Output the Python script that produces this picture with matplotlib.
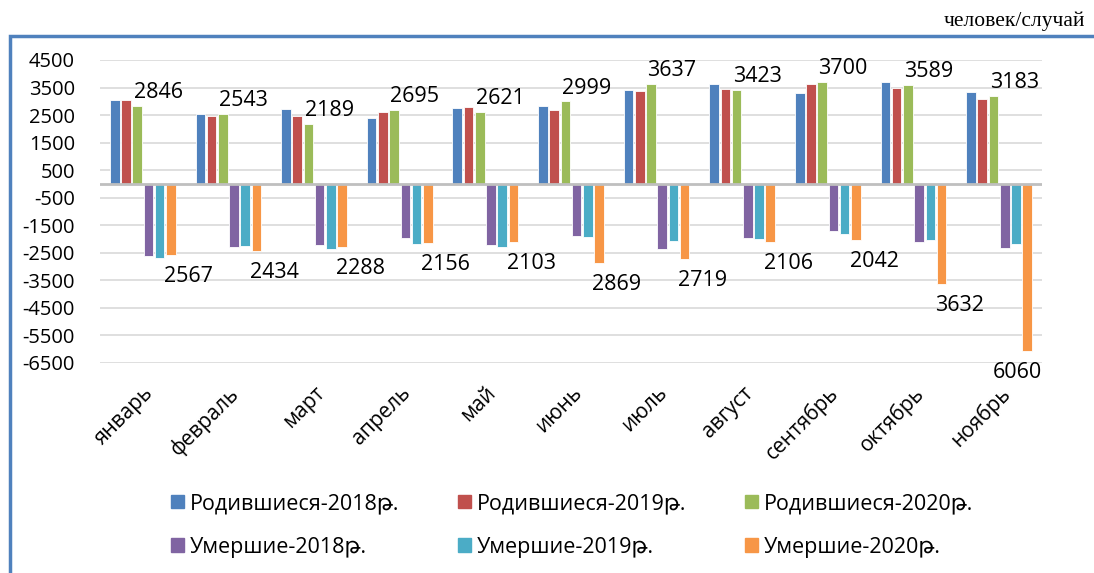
import matplotlib
matplotlib.use('Agg')
import matplotlib.pyplot as plt
from matplotlib.patches import Rectangle, Patch
import numpy as np

plt.rcParams['font.family'] = ['Open Sans', 'DejaVu Sans']
plt.rcParams['axes.unicode_minus'] = False

months = ['январь', 'февраль', 'март', 'апрель', 'май', 'июнь',
          'июль', 'август', 'сентябрь', 'октябрь', 'ноябрь']

born_2018 = [3040, 2540, 2736, 2408, 2747, 2820, 3400, 3630, 3290, 3700, 3335]
born_2019 = [3030, 2481, 2455, 2601, 2784, 2700, 3365, 3460, 3630, 3480, 3070]
born_2020 = [2846, 2543, 2189, 2695, 2621, 2999, 3637, 3423, 3700, 3589, 3183]
died_2018 = [2620, 2275, 2212, 1968, 2212, 1895, 2347, 1968, 1702, 2092, 2322]
died_2019 = [2690, 2249, 2359, 2187, 2286, 1932, 2067, 2005, 1800, 2019, 2187]
died_2020 = [2567, 2434, 2288, 2156, 2103, 2869, 2719, 2106, 2042, 3632, 6060]

labels = ['Родившиеся-2018թ.', 'Родившиеся-2019թ.', 'Родившиеся-2020թ.',
          'Умершие-2018թ.', 'Умершие-2019թ.', 'Умершие-2020թ.']
colors = ['#4F81BD', '#C0504D', '#9BBB59', '#8064A2', '#4BACC6', '#F79646']

series = [np.array(born_2018), np.array(born_2019), np.array(born_2020),
          -np.array(died_2018), -np.array(died_2019), -np.array(died_2020)]

fig = plt.figure(figsize=(10.94, 5.73), dpi=100)
ax = fig.add_axes([0.0914, 0.3665, 0.861, 0.5288])

x = np.arange(len(months))
step = 0.131
for k, (vals, col) in enumerate(zip(series, colors)):
    ax.bar(x + (k - 2.5) * step, vals, width=0.112, color=col,
           edgecolor='white', linewidth=0.6, zorder=3)

# data labels for 2020
for i in range(len(months)):
    ax.annotate(f'{born_2020[i]}', (x[i] - 0.5 * step, born_2020[i]),
                xytext=(15, 2), textcoords='offset points',
                ha='center', va='bottom', fontsize=15.5, clip_on=False)
    dx = 13 if i < len(months) - 1 else -7
    ax.annotate(f'{died_2020[i]}', (x[i] + 2.5 * step, -died_2020[i]),
                xytext=(dx, -8), textcoords='offset points',
                ha='center', va='top', fontsize=15.5, clip_on=False,
                annotation_clip=False)

ax.set_xlim(-0.5, len(months) - 0.5)
ax.set_ylim(-6500, 4500)
ax.set_yticks(np.arange(-6500, 4501, 1000))
ax.grid(axis='y', color='#D9D9D9', linewidth=1.2, zorder=0)
ax.axhline(0, color='#BFBFBF', linewidth=2, zorder=4)
for s in ax.spines.values():
    s.set_visible(False)
ax.tick_params(axis='y', length=0, pad=18, labelsize=14.5)
ax.tick_params(axis='x', length=0, pad=14, labelsize=15)
ax.set_xticks(x)
ax.set_xticklabels(months, rotation=45, ha='right', rotation_mode='anchor')

# legend, row-wise order
order = [0, 3, 1, 4, 2, 5]
handles = [Patch(color=colors[j]) for j in order]
fig.legend(handles, [labels[j] for j in order], ncol=3, loc='center',
           bbox_to_anchor=(0.523, 0.083), frameon=False, fontsize=15.5,
           handlelength=0.6, handleheight=0.6, handletextpad=0.3,
           columnspacing=2.7, labelspacing=1.05)

# unit label and frame
fig.text(0.992, 0.963, 'человек/случай', ha='right', va='center',
         fontsize=15.5, family='Liberation Serif')
fig.patches.append(Rectangle((0.009, -0.05), 1.1, 0.988, transform=fig.transFigure,
                             fill=False, edgecolor='#4F81BD', linewidth=2.5))

fig.savefig('out.png', dpi=100)
